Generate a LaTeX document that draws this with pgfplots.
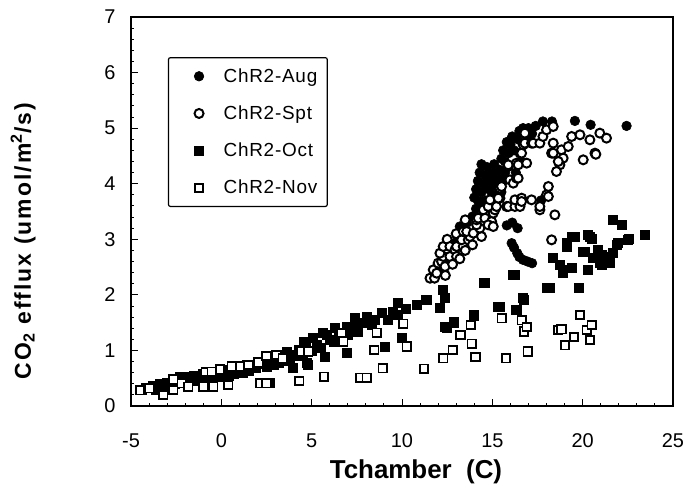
\documentclass[border=0pt]{standalone}
\usepackage{fontspec}
\setmainfont{Liberation Sans}
\usepackage{pgfplots}
\pgfplotsset{compat=1.18}

\pgfplotstableread{
x y
14.0 3.75
14.1 3.90
14.2 4.05
14.3 4.20
14.2 3.70
14.4 3.85
14.5 4.00
14.6 4.15
14.7 4.30
14.4 4.35
14.6 3.70
14.8 3.90
14.9 4.05
15.0 4.20
15.1 4.35
15.0 3.80
15.2 3.95
15.3 4.10
15.4 4.25
15.5 4.45
15.6 4.60
15.7 4.40
15.9 4.55
15.8 4.75
16.0 4.70
16.1 4.85
16.2 4.60
16.4 4.80
16.5 4.95
16.7 5.00
16.9 4.85
17.0 5.00
17.2 4.90
17.4 5.04
17.8 5.12
18.3 5.12
19.57 5.13
20.44 5.06
22.43 5.04
14.3 3.60
14.1 3.55
13.9 3.41
13.6 3.30
13.2 3.23
15.5 3.85
15.6 4.05
15.7 4.20
15.3 3.80
15.8 3.25
16.1 3.30
16.4 3.20
16.07 2.93
16.2 2.85
16.38 2.75
16.5 2.68
16.7 2.63
16.95 2.60
17.2 2.57
17.7 3.70
16.3 4.20
16.6 4.40
12.0 2.45
12.5 2.65
13.0 2.95
}\aug

\pgfplotstableread{
x y
11.55 2.30
11.73 2.45
11.80 2.30
11.92 2.39
12.00 2.57
12.19 2.60
12.38 2.51
12.40 2.35
12.28 2.69
12.65 2.69
12.80 2.55
12.10 2.75
12.28 2.87
12.50 3.00
12.65 2.87
12.93 2.81
13.02 2.69
13.20 2.65
13.02 2.87
13.00 3.10
13.39 2.87
13.50 2.80
13.30 2.99
13.67 2.99
13.90 2.90
13.76 3.05
13.39 3.14
13.58 3.14
13.50 3.35
13.95 3.11
14.40 3.05
14.31 3.20
14.13 3.26
14.13 3.35
14.22 3.38
14.59 3.38
14.96 3.32
14.77 3.26
15.05 3.23
14.50 3.53
15.05 3.47
15.14 3.53
14.77 3.59
15.23 3.59
14.87 3.71
15.42 3.74
15.33 3.74
15.79 3.59
15.88 3.59
16.25 3.59
16.25 3.71
16.53 3.59
16.62 3.74
16.62 3.68
17.17 3.71
17.63 3.53
17.63 3.59
18.00 3.80
18.10 3.77
18.10 3.95
18.46 3.44
18.28 2.99
15.42 3.92
15.51 3.95
15.97 4.07
16.16 4.01
16.34 4.10
16.43 4.10
15.88 4.31
15.88 4.34
16.34 4.37
16.43 4.34
16.53 4.55
16.62 4.55
16.90 4.37
16.71 4.70
16.80 4.73
16.80 4.91
17.17 4.73
17.26 4.73
17.63 4.73
17.80 4.85
18.00 4.97
18.37 5.03
18.37 4.73
18.28 4.55
18.37 4.55
18.83 4.61
18.92 4.46
18.74 4.34
18.65 4.40
18.55 4.22
19.20 4.67
19.39 4.85
19.85 4.88
20.40 4.79
20.95 4.91
21.32 4.82
20.68 4.55
20.03 4.43
20.73 4.53
}\spt

\pgfplotstableread{
x y
-4.4 0.30
-4.2 0.33
-3.8 0.36
-3.6 0.30
-3.4 0.40
-3.2 0.35
-3.0 0.42
-2.8 0.36
-2.6 0.40
-2.5 0.48
-2.3 0.53
-2.2 0.44
-2.0 0.52
-1.9 0.42
-1.7 0.47
-1.5 0.55
-1.3 0.45
-1.2 0.50
-1.0 0.58
-0.9 0.48
-0.7 0.54
-0.5 0.50
-0.4 0.62
-0.1 0.58
0.0 0.52
0.2 0.65
0.4 0.55
0.5 0.60
0.7 0.58
0.8 0.70
1.1 0.66
1.2 0.60
1.4 0.75
1.5 0.64
1.7 0.70
1.9 0.68
2.0 0.80
2.3 0.76
2.5 0.70
2.69 0.41
2.7 0.85
2.88 0.74
3.0 0.92
3.2 0.78
3.3 0.88
3.5 0.82
3.6 0.97
3.8 0.86
3.98 0.68
4.0 0.93
4.2 0.90
4.3 1.02
4.5 0.95
4.54 1.16
4.72 0.77
4.7 1.05
4.81 0.74
5.0 1.00
5.09 1.22
5.3 1.10
5.5 1.05
5.64 1.31
5.74 0.89
5.83 1.28
6.0 1.20
6.2 1.15
6.29 1.40
6.5 1.30
6.7 1.22
6.93 1.43
6.93 0.95
7.0 1.28
7.2 1.38
7.39 1.58
7.5 1.44
7.58 1.34
7.8 1.50
8.04 1.61
8.32 1.46
8.5 1.55
8.87 1.67
9.06 1.07
9.24 1.55
9.5 1.70
9.79 1.85
9.79 1.64
9.98 1.22
10.2 1.75
10.81 1.82
11.33 1.91
11.36 1.91
12.10 1.76
12.28 2.09
12.38 1.94
12.38 1.43
12.47 1.40
12.84 1.50
12.84 1.52
13.95 1.62
13.95 1.64
14.50 2.21
14.59 2.21
15.33 1.79
15.42 1.79
16.16 2.36
16.25 2.36
16.30 1.73
16.34 1.73
16.71 1.94
16.75 1.92
18.00 2.12
18.19 2.12
18.37 2.66
18.74 2.54
18.92 2.39
18.92 2.45
19.11 2.87
19.11 2.93
19.39 2.48
19.39 3.05
19.57 3.05
19.76 2.12
20.03 2.78
20.12 2.78
20.30 3.08
20.30 2.45
20.40 3.05
20.49 3.00
20.58 2.66
20.86 2.81
20.95 2.57
21.05 2.72
21.05 2.54
21.32 2.69
21.50 2.57
21.69 2.75
21.69 3.35
21.87 2.90
21.96 2.93
22.15 3.26
22.52 2.99
22.57 3.00
23.45 3.08
}\oct

\pgfplotstableread{
x y
-4.50 0.28
-3.99 0.32
-3.21 0.20
-2.66 0.29
-2.19 0.41
-1.83 0.35
-1.00 0.35
-0.45 0.35
0.38 0.38
-2.66 0.48
-0.87 0.61
-0.53 0.62
-0.07 0.66
0.57 0.71
1.03 0.71
1.49 0.74
2.04 0.78
2.14 0.41
2.50 0.41
2.50 0.90
3.06 0.92
3.40 0.86
4.31 0.45
4.45 0.98
4.81 0.98
5.68 0.53
6.66 1.31
6.75 1.16
7.67 0.51
8.04 0.51
8.46 1.01
8.60 1.32
8.93 0.68
10.07 1.48
10.26 1.07
11.21 0.67
12.28 0.86
12.80 1.01
13.24 1.28
13.80 1.46
13.85 1.12
14.07 0.88
15.51 1.58
15.75 0.86
16.62 1.54
16.76 1.34
16.90 1.42
16.95 0.98
18.65 1.37
18.83 1.38
19.02 1.09
19.52 1.24
19.85 1.64
20.22 1.37
20.40 1.19
20.50 1.46
}\nov

\begin{document}
\begin{tikzpicture}
\useasboundingbox (-131bp,-83bp) rectangle (557bp,406bp);
\begin{axis}[
  scale only axis,
  width=542bp, height=389bp,
  xmin=-5, xmax=25, ymin=0, ymax=7,
  xtick={-5,0,...,25}, ytick={0,1,...,7},
  minor x tick num=4, minor y tick num=4,
  xtick pos=left, ytick pos=left,
  tick align=inside,
  major tick length=7bp, minor tick length=3.5bp,
  axis line style={line width=1.3pt},
  every tick/.style={black, line width=0.9pt},
  tick label style={font=\fontsize{20}{22}\selectfont},
  /pgf/number format/assume math mode=true,
  yticklabel style={xshift=-12bp},
  xticklabel style={yshift=-24bp},
  xlabel={\bfseries Tchamber\ \ (C)},
  xlabel style={font=\fontsize{26}{28}\selectfont, yshift=-5bp, xshift=14bp},
  ylabel={\bfseries\addfontfeature{LetterSpace=9}CO\textsubscript{2} efflux (umol/m\textsuperscript{2}/s)},
  ylabel style={font=\fontsize{23}{25}\selectfont, at={(ticklabel cs:0.424)}, yshift=62bp},
  legend cell align=left,
  legend style={at={(0.068,0.897)}, anchor=north west,
    draw=black, line width=1.2pt, rounded corners=2bp,
    font=\fontsize{19}{21}\selectfont\addfontfeature{LetterSpace=4},
    inner xsep=8bp, inner ysep=9bp,
    row sep=18bp,
    /tikz/every even column/.append style={column sep=0bp}},
  legend image code/.code={\path (0bp,0bp) (44bp,0bp); \draw[#1] plot coordinates {(22bp,0bp)};},
]
\addplot[only marks, mark=*, mark size=4.8bp, black, mark options={fill=black, line width=0.6pt}] table {\aug};
\addlegendentry{ChR2-Aug}
\addplot[only marks, mark=*, mark size=4.5bp, black, mark options={fill=white, line width=2pt}] table {\spt};
\addlegendentry{ChR2-Spt}
\addplot[only marks, mark=square*, mark size=4.5bp, black, mark options={fill=black, line width=0.6pt}] table {\oct};
\addlegendentry{ChR2-Oct}
\addplot[only marks, mark=square*, mark size=4.2bp, black, mark options={fill=white, line width=1.7pt, rounded corners=1.5bp}] table {\nov};
\addlegendentry{ChR2-Nov}
\end{axis}
\end{tikzpicture}
\end{document}
